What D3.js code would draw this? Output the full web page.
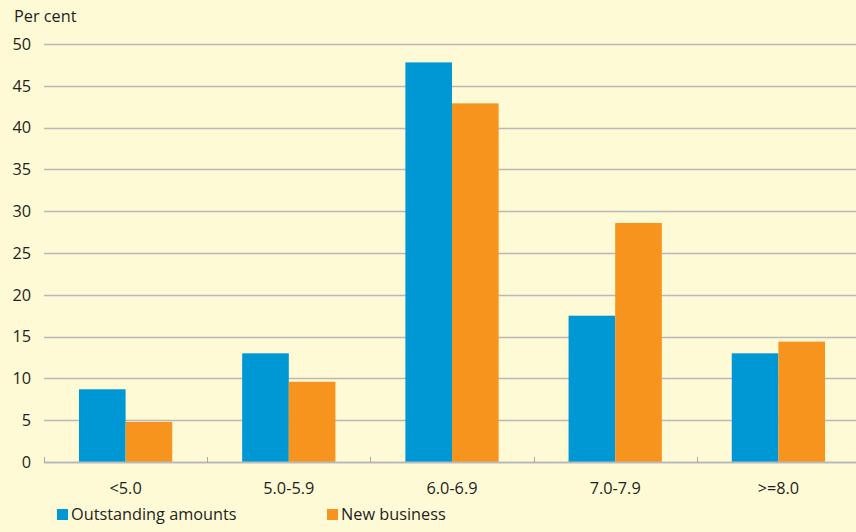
<!DOCTYPE html>
<html>
<head>
<meta charset="utf-8">
<script src="https://cdn.jsdelivr.net/npm/d3@7"></script>
<style>
  html, body { margin: 0; padding: 0; background: #FFFAD6; }
  svg { display: block; }
  text { font-family: "Open Sans", "Noto Sans", sans-serif; fill: #231F20; }
</style>
</head>
<body>
<svg id="chart" width="856" height="532"></svg>
<script>
// Interest rate buckets (per cent) and shares of each series
const categories = ["<5.0", "5.0-5.9", "6.0-6.9", "7.0-7.9", ">=8.0"];
const outstandingAmounts = [8.7, 13.0, 47.8, 17.5, 13.0];
const newBusiness = [4.8, 9.6, 42.9, 28.6, 14.4];
const seriesNames = ["Outstanding amounts", "New business"];
const seriesColors = ["#0098D4", "#F7941D"];
const yTicks = [0, 5, 10, 15, 20, 25, 30, 35, 40, 45, 50];

const svg = d3.select("#chart");
const W = 856, H = 532;
const margin = { left: 44, right: -4, top: 44, bottom: 70 };
const plotBottom = H - margin.bottom;
const fontSize = 16.3;

svg.append("rect").attr("width", W).attr("height", H).attr("fill", "#FFFAD6");

const x = d3.scaleBand()
  .domain(categories)
  .range([margin.left, W - margin.right])
  .paddingInner(0)
  .paddingOuter(0);

const y = d3.scaleLinear().domain([0, 50]).range([plotBottom, margin.top]);

const inner = d3.scaleBand()
  .domain(seriesNames)
  .range([0, x.bandwidth()])
  .paddingOuter(0.75)
  .paddingInner(0);

// Horizontal gridlines
svg.append("g")
  .selectAll("line")
  .data(yTicks.filter(d => d > 0))
  .join("line")
  .attr("x1", margin.left)
  .attr("x2", W)
  .attr("y1", d => Math.round(y(d)) + 0.5)
  .attr("y2", d => Math.round(y(d)) + 0.5)
  .attr("stroke", "#B9B9B9")
  .attr("stroke-width", 1.6);

// Y axis labels
svg.append("g")
  .selectAll("text")
  .data(yTicks)
  .join("text")
  .attr("x", 31)
  .attr("y", d => y(d))
  .attr("dy", "0.36em")
  .attr("text-anchor", "end")
  .attr("font-size", fontSize)
  .text(d => d);

svg.append("text")
  .attr("x", 14)
  .attr("y", 22)
  .attr("font-size", fontSize)
  .text("Per cent");

// Bars
const series = [outstandingAmounts, newBusiness];
const groups = svg.append("g")
  .selectAll("g")
  .data(series)
  .join("g")
  .attr("fill", (d, i) => seriesColors[i]);

groups.selectAll("rect")
  .data((vals, si) => vals.map((v, ci) => ({ v, cat: categories[ci], s: seriesNames[si] })))
  .join("rect")
  .attr("x", d => x(d.cat) + inner(d.s))
  .attr("width", inner.bandwidth())
  .attr("y", d => y(d.v))
  .attr("height", d => y(0) - y(d.v));

// Baseline with category separators
svg.append("line")
  .attr("x1", margin.left)
  .attr("x2", W)
  .attr("y1", y(0) + 0.5)
  .attr("y2", y(0) + 0.5)
  .attr("stroke", "#B9B9B9")
  .attr("stroke-width", 2);

svg.append("g")
  .selectAll("line")
  .data(categories)
  .join("line")
  .attr("x1", d => Math.round(x(d)) + 0.5)
  .attr("x2", d => Math.round(x(d)) + 0.5)
  .attr("y1", y(0) - 5)
  .attr("y2", y(0) + 1)
  .attr("stroke", "#A8A8A8")
  .attr("stroke-width", 1);

// Category labels
svg.append("g")
  .selectAll("text")
  .data(categories)
  .join("text")
  .attr("x", d => x(d) + x.bandwidth() / 2)
  .attr("y", 494)
  .attr("text-anchor", "middle")
  .attr("font-size", fontSize)
  .text(d => d);

// Legend
const legendX = [57, 327];
const legend = svg.append("g")
  .selectAll("g")
  .data(seriesNames)
  .join("g")
  .attr("transform", (d, i) => `translate(${legendX[i]},509)`);

legend.append("rect")
  .attr("width", 11)
  .attr("height", 11)
  .attr("fill", (d, i) => seriesColors[i]);

legend.append("text")
  .attr("x", 14)
  .attr("y", 11)
  .attr("font-size", fontSize)
  .text(d => d);
</script>
</body>
</html>
